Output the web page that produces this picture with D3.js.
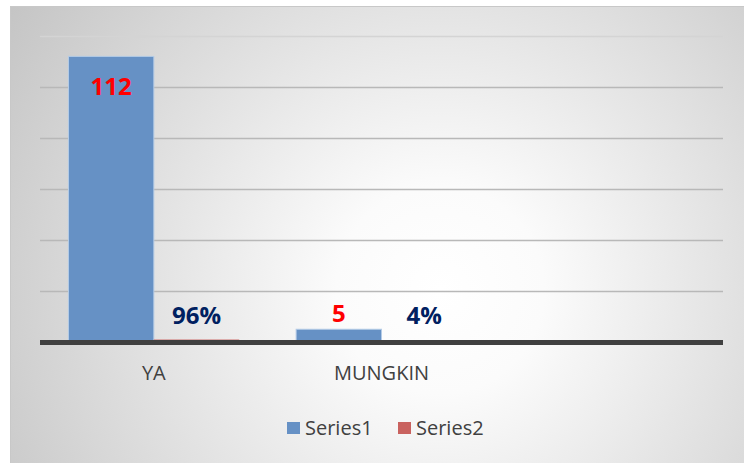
<html>
<head>
	<meta charset="utf-8">
	<title>YA / MUNGKIN</title>
	<style>
		body { margin: 0; background: #fff; }
		svg { display: block; }
	</style>
</head>
<body>
	<div id="chart"></div>
	<script src="https://d3js.org/d3.v7.min.js"></script>
	<script>
		var categories = ["YA", "MUNGKIN", ""];
		var seriesNames = ["Series1", "Series2"];
		var series1 = [112, 5, null];
		var series2 = [0.96, 0.04, null];
		var yTicks = [0, 20, 40, 60, 80, 100, 120];

		var W = 744, H = 463;
		var plotLeft = 40, plotRight = 723, plotTop = 36, plotBase = 342;

		var svg = d3.select("#chart").append("svg").attr("width", W).attr("height", H);

		// panel background, white in the middle going grey at the corners
		var grad = svg.append("defs").append("radialGradient")
			.attr("id", "bg").attr("gradientUnits", "userSpaceOnUse")
			.attr("cx", 440).attr("cy", 290).attr("r", 520);
		grad.append("stop").attr("offset", 0).attr("stop-color", "#ffffff");
		grad.append("stop").attr("offset", 0.2).attr("stop-color", "#fbfbfb");
		grad.append("stop").attr("offset", 1).attr("stop-color", "#c4c4c4");

		svg.append("rect").attr("x", 10.5).attr("y", 6.5).attr("width", W).attr("height", H)
			.attr("fill", "url(#bg)").attr("stroke", "#c8c8c8").attr("stroke-width", 1);

		var y = d3.scaleLinear().domain([0, 120]).range([plotBase, plotTop]);
		var x0 = d3.scaleBand().domain(categories).range([plotLeft, plotRight])
			.paddingInner(0.25).paddingOuter(0.125);
		var x1 = d3.scaleBand().domain(seriesNames).range([0, x0.bandwidth()]);
		var colors = d3.scaleOrdinal().domain(seriesNames).range(["#6691c5", "#c9625f"]);

		// gridlines
		var grid = svg.append("g").attr("transform", "translate(" + plotLeft + ",0)")
			.call(d3.axisLeft(y).tickValues(yTicks).tickSize(-(plotRight - plotLeft)).tickFormat(""));
		grid.select(".domain").remove();
		grid.selectAll(".tick line").attr("stroke", "#b8b8b8").attr("stroke-width", 1.5);
		grid.selectAll(".tick").filter(function(d) { return d === 120; })
			.select("line").attr("stroke", "#d4d4d4");

		var rows = categories.map(function(c, i) {
			return [
				{ cat: c, s: "Series1", v: series1[i], label: series1[i] == null ? "" : d3.format("d")(series1[i]), color: "#ff0000" },
				{ cat: c, s: "Series2", v: series2[i], label: series2[i] == null ? "" : d3.format(".0%")(series2[i]), color: "#002060" }
			];
		});

		var groups = svg.selectAll("g.cat").data(rows).enter().append("g")
			.attr("class", "cat")
			.attr("transform", function(d) { return "translate(" + x0(d[0].cat) + ",0)"; });

		groups.selectAll("rect").data(function(d) { return d.filter(function(e) { return e.v != null; }); })
			.enter().append("rect")
			.attr("x", function(d) { return x1(d.s); })
			.attr("y", function(d) { return y(d.v); })
			.attr("width", x1.bandwidth())
			.attr("height", function(d) { return plotBase - y(d.v); })
			.attr("fill", function(d) { return colors(d.s); })
			.attr("stroke", function(d) { return d.s === "Series1" ? "#b4cbe6" : "none"; })
			.attr("stroke-width", 1);

		// baseline (thick, covers the tiny Series2 bars)
		svg.append("line").attr("x1", plotLeft).attr("x2", plotRight).attr("y1", plotBase + 0.5).attr("y2", plotBase + 0.5)
			.attr("stroke", "#404040").attr("stroke-width", 5);

		// value labels: inside end for tall bars, outside end otherwise
		groups.selectAll("text.val").data(function(d) { return d.filter(function(e) { return e.v != null; }); })
			.enter().append("text")
			.attr("class", "val")
			.attr("x", function(d) { return x1(d.s) + x1.bandwidth() / 2; })
			.attr("y", function(d) {
				var h = plotBase - y(d.v);
				return h > 60 ? y(d.v) + 39 : Math.min(y(d.v) - 7, plotBase - 18);
			})
			.attr("text-anchor", "middle")
			.attr("font-family", "'Open Sans', sans-serif")
			.attr("font-weight", "bold")
			.attr("font-size", 24)
			.attr("fill", function(d) { return d.color; })
			.text(function(d) { return d.label; });

		// category axis
		var xAxis = svg.append("g").attr("transform", "translate(0," + plotBase + ")")
			.call(d3.axisBottom(x0).tickSize(0).tickPadding(24));
		xAxis.select(".domain").remove();
		xAxis.selectAll("text")
			.attr("font-family", "'Open Sans', sans-serif")
			.attr("font-size", 20)
			.attr("fill", "#404040");

		// legend
		var legendX = [287, 398];
		var legend = svg.selectAll("g.legend").data(seriesNames).enter().append("g")
			.attr("class", "legend")
			.attr("transform", function(d, i) { return "translate(" + legendX[i] + ",422)"; });
		legend.append("rect").attr("width", 13).attr("height", 12)
			.attr("fill", function(d) { return colors(d); });
		legend.append("text").attr("x", 18).attr("y", 13)
			.attr("font-family", "'Open Sans', sans-serif")
			.attr("font-size", 20)
			.attr("fill", "#404040")
			.text(function(d) { return d; });
	</script>
</body>
</html>
